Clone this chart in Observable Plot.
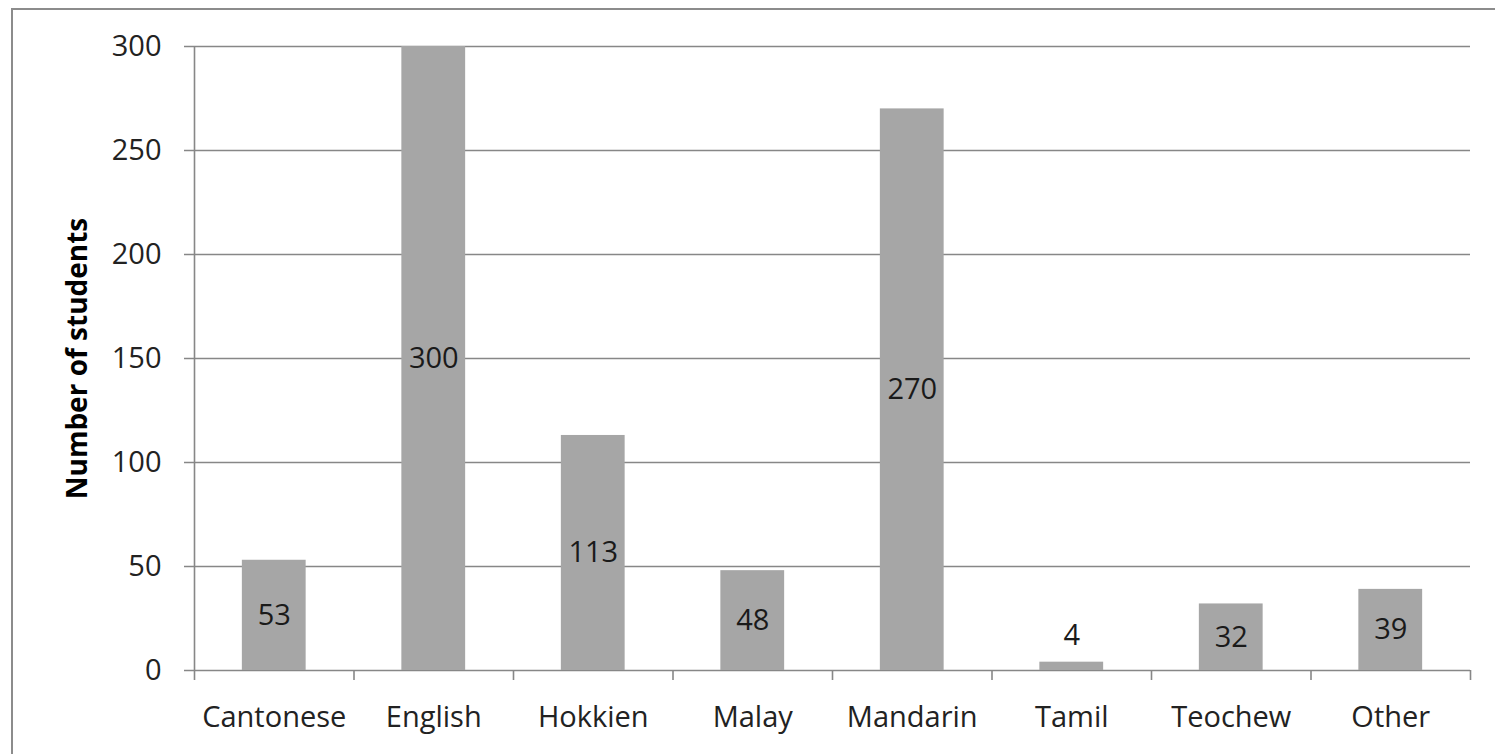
<!DOCTYPE html>
<html>
<head>
<meta charset="utf-8">
<script src="https://cdn.jsdelivr.net/npm/d3@7"></script>
<script src="https://cdn.jsdelivr.net/npm/@observablehq/plot@0.6"></script>
<style>
  html, body { margin: 0; padding: 0; background: #fff; }
  #wrap { position: relative; width: 1495px; height: 754px; overflow: hidden; }
  #frame { position: absolute; left: 11px; top: 8px; width: 1600px; height: 900px;
           border-top: 2px solid #8c8c8c; border-left: 2px solid #8c8c8c; }
  #chart { position: absolute; left: 0; top: 0; }
</style>
</head>
<body>
<div id="wrap"><div id="frame"></div><div id="chart"></div></div>
<script>
const languages = ["Cantonese", "English", "Hokkien", "Malay", "Mandarin", "Tamil", "Teochew", "Other"];
const students = [53, 300, 113, 48, 270, 4, 32, 39];
const yTicks = [0, 50, 100, 150, 200, 250, 300];
const yTitle = "Number of students";

const data = languages.map((l, i) => ({language: l, value: students[i]}));

const W = 1495, H = 754;
const mL = 194, mR = 25, mT = 46, mB = 84;
const plotH = H - mT - mB;
const step = (W - mL - mR) / languages.length;
const gridColor = "#878787";
const barColor = "#a6a6a6";
const font = "'Open Sans', sans-serif";

const chart = Plot.plot({
  width: W,
  height: H,
  marginLeft: mL,
  marginRight: mR,
  marginTop: mT,
  marginBottom: mB,
  style: {fontFamily: font, fontSize: "29px", color: "#222", background: "transparent"},
  x: {domain: languages, paddingInner: 0.6, paddingOuter: 0.3, round: false, label: null, tickSize: 0, tickPadding: 36},
  y: {domain: [0, 300], ticks: yTicks, label: null, tickSize: 0, tickPadding: 33},
  marks: [
    Plot.ruleY(yTicks, {stroke: gridColor, strokeWidth: 1.6, insetLeft: -10}),
    Plot.barY(data, {x: "language", y: "value", fill: barColor}),
    // axis line on the left
    Plot.ruleX([languages[0]], {dx: -step / 2, stroke: gridColor, strokeWidth: 1.6, insetBottom: -10}),
    // category boundary ticks
    Plot.ruleX(languages.slice(1), {dx: -step / 2, stroke: gridColor, strokeWidth: 1.6, insetTop: plotH, insetBottom: -10}),
    Plot.ruleX([languages[languages.length - 1]], {dx: step / 2, stroke: gridColor, strokeWidth: 1.6, insetTop: plotH, insetBottom: -10}),
    // value labels centered in bars
    Plot.text(data.filter(d => d.value >= 10), {x: "language", y: d => d.value / 2, text: d => String(d.value), fontSize: 29, fill: "#1a1a1a"}),
    // small values shown above the bar
    Plot.text(data.filter(d => d.value < 10), {x: "language", y: "value", text: d => String(d.value), fontSize: 29, fill: "#1a1a1a", dy: -26}),
    // y title
    Plot.text([yTitle], {frameAnchor: "left", rotate: -90, textAnchor: "middle", dx: -(mL - 78), text: d => d, fontSize: 28, fontWeight: "bold", fill: "#000"})
  ]
});
document.getElementById("chart").appendChild(chart);
</script>
</body>
</html>
